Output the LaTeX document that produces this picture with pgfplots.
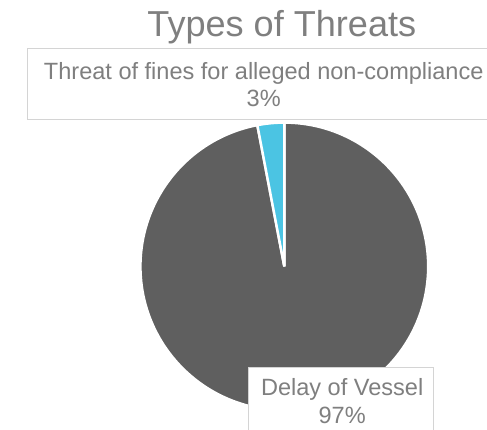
\documentclass[border=0pt]{standalone}
\usepackage{pgfplots}
\pgfplotsset{compat=1.18}
\usepackage{pgfplotstable}
\usepackage{fontspec}
\setmainfont{Liberation Sans}
\definecolor{piegray}{HTML}{5F5F5F}
\definecolor{pieblue}{HTML}{4BC4E3}
\definecolor{txtgray}{HTML}{7F7F7F}
\definecolor{boxgray}{HTML}{D4D4D4}

\pgfplotstableread{
label value
Delay 97
Threat 3
}\threats

\begin{document}
\pgfplotstablegetelem{0}{value}\of\threats \let\va\pgfplotsretval
\pgfplotstablegetelem{1}{value}\of\threats \let\vb\pgfplotsretval
\pgfmathsetmacro\aone{90-3.6*\va}
\pgfmathsetmacro\atwo{\aone-3.6*\vb}
\begin{tikzpicture}
\path[use as bounding box] (0,0) rectangle (487bp,434bp);
\clip (0,0) rectangle (487bp,434bp);
\begin{axis}[
  at={(282bp,164.5bp)}, anchor=origin,
  hide axis, clip=false,
  x=145.5bp, y=145.5bp,
  xmin=-1.05, xmax=1.05, ymin=-1.05, ymax=1.05,
]
\addplot[draw=none] coordinates {(0,0)};
\filldraw[fill=piegray, draw=white, line width=2.5bp]
  (axis cs:0,0) -- ++(90:145.5bp) arc[start angle=90, end angle=\aone, radius=145.5bp] -- cycle;
\filldraw[fill=pieblue, draw=white, line width=2.5bp]
  (axis cs:0,0) -- ++(\aone:145.5bp) arc[start angle=\aone, end angle=\atwo, radius=145.5bp] -- cycle;
\end{axis}
% title
\node[anchor=base, text=txtgray, inner sep=0pt, font=\fontsize{36.5bp}{42bp}\selectfont]
  at (279.5bp,397bp) {Types of Threats};
% top label
\draw[boxgray, fill=white, line width=1.3bp] (22bp,313bp) rectangle (520bp,385bp);
\node[anchor=base, text=txtgray, inner sep=0pt, font=\fontsize{23.8bp}{28bp}\selectfont]
  at (261.2bp,354bp) {Threat of fines for alleged non-compliance};
\node[anchor=base, text=txtgray, inner sep=0pt, font=\fontsize{23.8bp}{28bp}\selectfont]
  at (261.2bp,326bp) {3\%};
% bottom label
\draw[boxgray, fill=white, line width=1.3bp] (246bp,62bp) rectangle (432.7bp,-20bp);
\node[anchor=base, text=txtgray, inner sep=0pt, font=\fontsize{23.8bp}{28bp}\selectfont]
  at (340.5bp,34bp) {Delay of Vessel};
\node[anchor=base, text=txtgray, inner sep=0pt, font=\fontsize{23.8bp}{28bp}\selectfont]
  at (340.5bp,6bp) {97\%};
\end{tikzpicture}
\end{document}
